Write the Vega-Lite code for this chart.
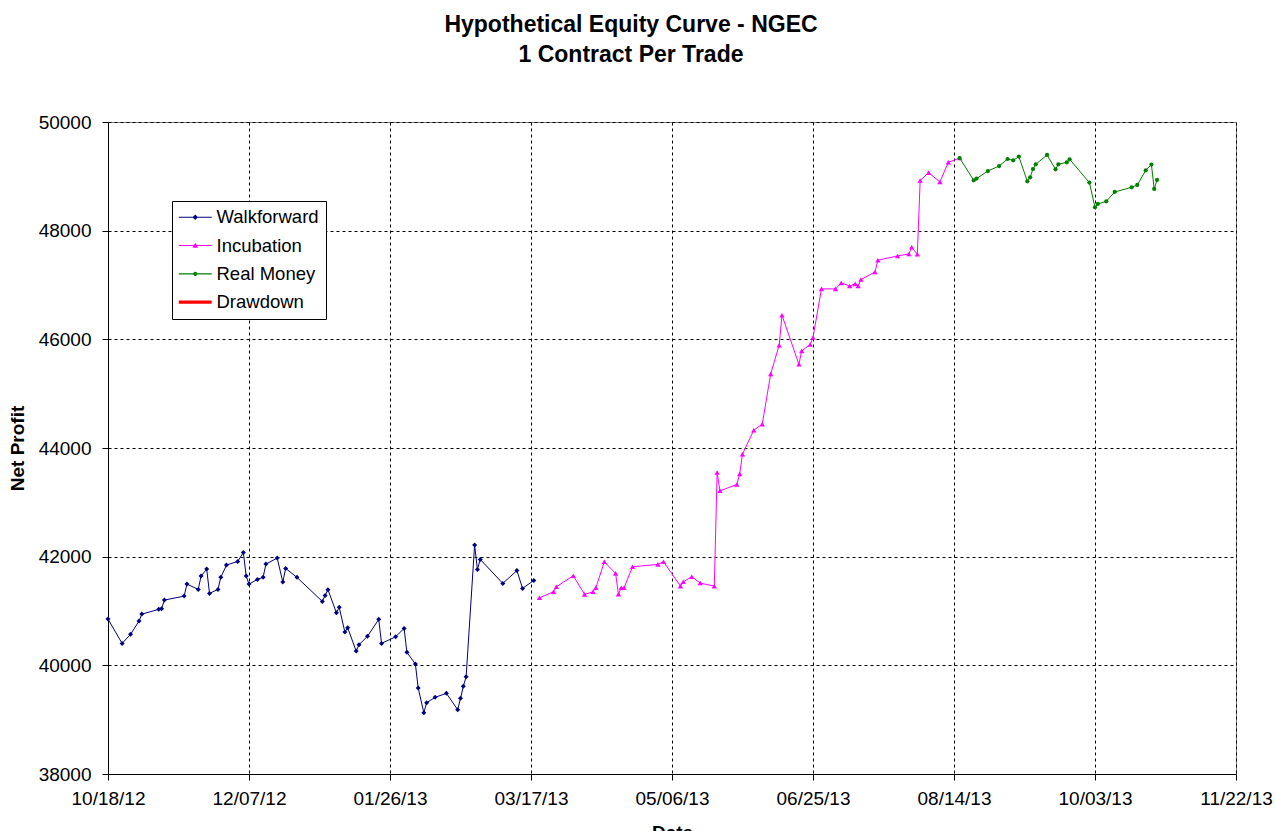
{
  "$schema": "https://vega.github.io/schema/vega-lite/v6.json",
  "width": 1128,
  "height": 652,
  "autosize": {"type": "none"},
  "padding": {"left": 108, "top": 122, "right": 39, "bottom": 57},
  "background": "white",
  "title": {
    "text": ["Hypothetical Equity Curve - NGEC", "1 Contract Per Trade"],
    "font": "Liberation Sans",
    "fontSize": 23,
    "fontWeight": "bold",
    "color": "black",
    "lineHeight": 30,
    "anchor": "middle",
    "baseline": "bottom",
    "offset": 23,
    "dx": -41
  },
  "datasets": {
    "equity": [
      {"date": "2012-10-18", "profit": 40851, "series": "Walkforward"},
      {"date": "2012-10-23", "profit": 40404, "series": "Walkforward"},
      {"date": "2012-10-26", "profit": 40570, "series": "Walkforward"},
      {"date": "2012-10-29", "profit": 40815, "series": "Walkforward"},
      {"date": "2012-10-30", "profit": 40943, "series": "Walkforward"},
      {"date": "2012-11-05", "profit": 41030, "series": "Walkforward"},
      {"date": "2012-11-06", "profit": 41040, "series": "Walkforward"},
      {"date": "2012-11-07", "profit": 41201, "series": "Walkforward"},
      {"date": "2012-11-14", "profit": 41274, "series": "Walkforward"},
      {"date": "2012-11-15", "profit": 41495, "series": "Walkforward"},
      {"date": "2012-11-19", "profit": 41398, "series": "Walkforward"},
      {"date": "2012-11-20", "profit": 41642, "series": "Walkforward"},
      {"date": "2012-11-22", "profit": 41771, "series": "Walkforward"},
      {"date": "2012-11-23", "profit": 41324, "series": "Walkforward"},
      {"date": "2012-11-26", "profit": 41398, "series": "Walkforward"},
      {"date": "2012-11-27", "profit": 41619, "series": "Walkforward"},
      {"date": "2012-11-29", "profit": 41845, "series": "Walkforward"},
      {"date": "2012-12-03", "profit": 41913, "series": "Walkforward"},
      {"date": "2012-12-05", "profit": 42078, "series": "Walkforward"},
      {"date": "2012-12-06", "profit": 41642, "series": "Walkforward"},
      {"date": "2012-12-07", "profit": 41495, "series": "Walkforward"},
      {"date": "2012-12-10", "profit": 41582, "series": "Walkforward"},
      {"date": "2012-12-12", "profit": 41619, "series": "Walkforward"},
      {"date": "2012-12-13", "profit": 41863, "series": "Walkforward"},
      {"date": "2012-12-17", "profit": 41974, "series": "Walkforward"},
      {"date": "2012-12-19", "profit": 41532, "series": "Walkforward"},
      {"date": "2012-12-20", "profit": 41784, "series": "Walkforward"},
      {"date": "2012-12-24", "profit": 41619, "series": "Walkforward"},
      {"date": "2013-01-02", "profit": 41177, "series": "Walkforward"},
      {"date": "2013-01-03", "profit": 41287, "series": "Walkforward"},
      {"date": "2013-01-04", "profit": 41392, "series": "Walkforward"},
      {"date": "2013-01-07", "profit": 40967, "series": "Walkforward"},
      {"date": "2013-01-08", "profit": 41067, "series": "Walkforward"},
      {"date": "2013-01-10", "profit": 40612, "series": "Walkforward"},
      {"date": "2013-01-11", "profit": 40691, "series": "Walkforward"},
      {"date": "2013-01-14", "profit": 40263, "series": "Walkforward"},
      {"date": "2013-01-15", "profit": 40379, "series": "Walkforward"},
      {"date": "2013-01-18", "profit": 40533, "series": "Walkforward"},
      {"date": "2013-01-22", "profit": 40846, "series": "Walkforward"},
      {"date": "2013-01-23", "profit": 40404, "series": "Walkforward"},
      {"date": "2013-01-28", "profit": 40526, "series": "Walkforward"},
      {"date": "2013-01-31", "profit": 40680, "series": "Walkforward"},
      {"date": "2013-02-01", "profit": 40239, "series": "Walkforward"},
      {"date": "2013-02-04", "profit": 40024, "series": "Walkforward"},
      {"date": "2013-02-05", "profit": 39582, "series": "Walkforward"},
      {"date": "2013-02-07", "profit": 39128, "series": "Walkforward"},
      {"date": "2013-02-08", "profit": 39312, "series": "Walkforward"},
      {"date": "2013-02-11", "profit": 39411, "series": "Walkforward"},
      {"date": "2013-02-15", "profit": 39485, "series": "Walkforward"},
      {"date": "2013-02-19", "profit": 39183, "series": "Walkforward"},
      {"date": "2013-02-20", "profit": 39393, "series": "Walkforward"},
      {"date": "2013-02-21", "profit": 39613, "series": "Walkforward"},
      {"date": "2013-02-22", "profit": 39790, "series": "Walkforward"},
      {"date": "2013-02-25", "profit": 42213, "series": "Walkforward"},
      {"date": "2013-02-26", "profit": 41766, "series": "Walkforward"},
      {"date": "2013-02-27", "profit": 41950, "series": "Walkforward"},
      {"date": "2013-03-07", "profit": 41508, "series": "Walkforward"},
      {"date": "2013-03-12", "profit": 41744, "series": "Walkforward"},
      {"date": "2013-03-14", "profit": 41416, "series": "Walkforward"},
      {"date": "2013-03-18", "profit": 41563, "series": "Walkforward"},
      {"date": "2013-03-20", "profit": 41243, "series": "Incubation"},
      {"date": "2013-03-25", "profit": 41354, "series": "Incubation"},
      {"date": "2013-03-26", "profit": 41446, "series": "Incubation"},
      {"date": "2013-04-01", "profit": 41648, "series": "Incubation"},
      {"date": "2013-04-05", "profit": 41306, "series": "Incubation"},
      {"date": "2013-04-08", "profit": 41354, "series": "Incubation"},
      {"date": "2013-04-09", "profit": 41427, "series": "Incubation"},
      {"date": "2013-04-12", "profit": 41906, "series": "Incubation"},
      {"date": "2013-04-16", "profit": 41692, "series": "Incubation"},
      {"date": "2013-04-17", "profit": 41311, "series": "Incubation"},
      {"date": "2013-04-18", "profit": 41427, "series": "Incubation"},
      {"date": "2013-04-19", "profit": 41427, "series": "Incubation"},
      {"date": "2013-04-22", "profit": 41814, "series": "Incubation"},
      {"date": "2013-05-01", "profit": 41858, "series": "Incubation"},
      {"date": "2013-05-03", "profit": 41906, "series": "Incubation"},
      {"date": "2013-05-09", "profit": 41458, "series": "Incubation"},
      {"date": "2013-05-10", "profit": 41538, "series": "Incubation"},
      {"date": "2013-05-13", "profit": 41630, "series": "Incubation"},
      {"date": "2013-05-16", "profit": 41514, "series": "Incubation"},
      {"date": "2013-05-21", "profit": 41458, "series": "Incubation"},
      {"date": "2013-05-22", "profit": 43550, "series": "Incubation"},
      {"date": "2013-05-23", "profit": 43212, "series": "Incubation"},
      {"date": "2013-05-29", "profit": 43329, "series": "Incubation"},
      {"date": "2013-05-30", "profit": 43524, "series": "Incubation"},
      {"date": "2013-05-31", "profit": 43887, "series": "Incubation"},
      {"date": "2013-06-04", "profit": 44328, "series": "Incubation"},
      {"date": "2013-06-07", "profit": 44439, "series": "Incubation"},
      {"date": "2013-06-10", "profit": 45364, "series": "Incubation"},
      {"date": "2013-06-13", "profit": 45892, "series": "Incubation"},
      {"date": "2013-06-14", "profit": 46444, "series": "Incubation"},
      {"date": "2013-06-20", "profit": 45542, "series": "Incubation"},
      {"date": "2013-06-21", "profit": 45787, "series": "Incubation"},
      {"date": "2013-06-24", "profit": 45905, "series": "Incubation"},
      {"date": "2013-06-25", "profit": 46034, "series": "Incubation"},
      {"date": "2013-06-28", "profit": 46928, "series": "Incubation"},
      {"date": "2013-07-03", "profit": 46928, "series": "Incubation"},
      {"date": "2013-07-05", "profit": 47038, "series": "Incubation"},
      {"date": "2013-07-08", "profit": 46983, "series": "Incubation"},
      {"date": "2013-07-10", "profit": 47020, "series": "Incubation"},
      {"date": "2013-07-11", "profit": 46983, "series": "Incubation"},
      {"date": "2013-07-12", "profit": 47101, "series": "Incubation"},
      {"date": "2013-07-17", "profit": 47240, "series": "Incubation"},
      {"date": "2013-07-18", "profit": 47456, "series": "Incubation"},
      {"date": "2013-07-25", "profit": 47535, "series": "Incubation"},
      {"date": "2013-07-29", "profit": 47571, "series": "Incubation"},
      {"date": "2013-07-30", "profit": 47695, "series": "Incubation"},
      {"date": "2013-08-01", "profit": 47566, "series": "Incubation"},
      {"date": "2013-08-02", "profit": 48922, "series": "Incubation"},
      {"date": "2013-08-05", "profit": 49069, "series": "Incubation"},
      {"date": "2013-08-09", "profit": 48896, "series": "Incubation"},
      {"date": "2013-08-12", "profit": 49258, "series": "Incubation"},
      {"date": "2013-08-16", "profit": 49337, "series": "Incubation"},
      {"date": "2013-08-16", "profit": 49337, "series": "Real Money"},
      {"date": "2013-08-21", "profit": 48927, "series": "Real Money"},
      {"date": "2013-08-22", "profit": 48959, "series": "Real Money"},
      {"date": "2013-08-26", "profit": 49098, "series": "Real Money"},
      {"date": "2013-08-30", "profit": 49190, "series": "Real Money"},
      {"date": "2013-09-02", "profit": 49319, "series": "Real Money"},
      {"date": "2013-09-04", "profit": 49295, "series": "Real Money"},
      {"date": "2013-09-06", "profit": 49363, "series": "Real Money"},
      {"date": "2013-09-09", "profit": 48909, "series": "Real Money"},
      {"date": "2013-09-10", "profit": 48982, "series": "Real Money"},
      {"date": "2013-09-11", "profit": 49135, "series": "Real Money"},
      {"date": "2013-09-12", "profit": 49222, "series": "Real Money"},
      {"date": "2013-09-16", "profit": 49393, "series": "Real Money"},
      {"date": "2013-09-19", "profit": 49130, "series": "Real Money"},
      {"date": "2013-09-20", "profit": 49222, "series": "Real Money"},
      {"date": "2013-09-23", "profit": 49258, "series": "Real Money"},
      {"date": "2013-09-24", "profit": 49314, "series": "Real Money"},
      {"date": "2013-10-01", "profit": 48885, "series": "Real Money"},
      {"date": "2013-10-03", "profit": 48431, "series": "Real Money"},
      {"date": "2013-10-04", "profit": 48491, "series": "Real Money"},
      {"date": "2013-10-07", "profit": 48541, "series": "Real Money"},
      {"date": "2013-10-10", "profit": 48712, "series": "Real Money"},
      {"date": "2013-10-16", "profit": 48798, "series": "Real Money"},
      {"date": "2013-10-18", "profit": 48841, "series": "Real Money"},
      {"date": "2013-10-21", "profit": 49111, "series": "Real Money"},
      {"date": "2013-10-23", "profit": 49216, "series": "Real Money"},
      {"date": "2013-10-24", "profit": 48767, "series": "Real Money"},
      {"date": "2013-10-25", "profit": 48933, "series": "Real Money"}
    ]
  },
  "layer": [
    {
      "data": {"name": "equity"},
      "encoding": {
        "x": {
          "field": "date",
          "type": "temporal",
          "scale": {
            "type": "utc",
            "domain": [
              {"year": 2012, "month": 10, "date": 18, "utc": true},
              {"year": 2013, "month": 11, "date": 22, "utc": true}
            ],
            "nice": false
          },
          "axis": {
            "title": "Date",
            "values": [
              {"year": 2012, "month": 10, "date": 18, "utc": true},
              {"year": 2012, "month": 12, "date": 7, "utc": true},
              {"year": 2013, "month": 1, "date": 26, "utc": true},
              {"year": 2013, "month": 3, "date": 17, "utc": true},
              {"year": 2013, "month": 5, "date": 6, "utc": true},
              {"year": 2013, "month": 6, "date": 25, "utc": true},
              {"year": 2013, "month": 8, "date": 14, "utc": true},
              {"year": 2013, "month": 10, "date": 3, "utc": true},
              {"year": 2013, "month": 11, "date": 22, "utc": true}
            ],
            "labelExpr": "utcFormat(datum.value, '%m/%d/%y')",
            "labelPadding": 9,
            "titlePadding": 15,
            "encode": {
              "grid": {
                "update": {
                  "strokeOpacity": {"signal": "datum.value > 1385000000000 ? 0 : 1"}
                }
              }
            }
          }
        },
        "y": {
          "field": "profit",
          "type": "quantitative",
          "scale": {"domain": [38000, 50000], "nice": false, "zero": false},
          "axis": {
            "title": "Net Profit",
            "values": [38000, 40000, 42000, 44000, 46000, 48000, 50000],
            "format": "d",
            "labelPadding": 11,
            "titlePadding": 11,
            "encode": {
              "grid": {
                "update": {
                  "strokeOpacity": {"signal": "datum.value >= 50000 ? 0 : 1"}
                }
              }
            }
          }
        }
      },
      "layer": [
        {
          "transform": [{"filter": "datum.series === 'Walkforward'"}],
          "mark": {
            "type": "line",
            "color": "#000080",
            "strokeWidth": 1,
            "point": {"filled": true, "shape": "diamond", "size": 25, "color": "#000080", "opacity": 1}
          }
        },
        {
          "transform": [{"filter": "datum.series === 'Incubation'"}],
          "mark": {
            "type": "line",
            "color": "#FF00FF",
            "strokeWidth": 1,
            "point": {"filled": true, "shape": "triangle-up", "size": 28, "color": "#FF00FF", "opacity": 1}
          }
        },
        {
          "transform": [{"filter": "datum.series === 'Real Money'"}],
          "mark": {
            "type": "line",
            "color": "#008000",
            "strokeWidth": 1,
            "point": {"filled": true, "shape": "circle", "size": 18, "color": "#008000", "opacity": 1}
          }
        }
      ]
    },
    {
      "data": {"values": [{"series": "Drawdown"}]},
      "transform": [{"filter": "datum.series === 'none'"}],
      "mark": {"type": "point", "filled": true, "size": 324, "opacity": 1},
      "encoding": {
        "color": {
          "field": "series",
          "type": "nominal",
          "scale": {
            "domain": ["Walkforward", "Incubation", "Real Money", "Drawdown"],
            "range": ["#000080", "#FF00FF", "#008000", "#FF0000"]
          },
          "legend": {
            "title": null,
            "orient": "none",
            "legendX": 64,
            "legendY": 79,
            "padding": 7,
            "fillColor": "white",
            "strokeColor": "black",
            "symbolSize": 324,
            "symbolStrokeWidth": 0,
            "symbolOpacity": 1,
            "symbolOffset": 7,
            "labelOffset": 12,
            "labelFontSize": 18.5,
            "labelColor": "black",
            "labelFont": "Liberation Sans",
            "rowPadding": 9.3,
            "labelLimit": 300
          }
        },
        "shape": {
          "field": "series",
          "type": "nominal",
          "scale": {
            "domain": ["Walkforward", "Incubation", "Real Money", "Drawdown"],
            "range": [
              "M-1.83,-0.06H1.83V0.06H-1.83ZM0,-0.3L0.3,0L0,0.3L-0.3,0Z",
              "M-1.83,-0.06H1.83V0.06H-1.83ZM0,-0.32L0.32,0.24L-0.32,0.24Z",
              "M-1.83,-0.06H1.83V0.06H-1.83ZM-0.24,0A0.24,0.24 0 1,1 0.24,0A0.24,0.24 0 1,1 -0.24,0Z",
              "M-1.83,-0.17H1.83V0.17H-1.83Z"
            ]
          }
        }
      }
    }
  ],
  "config": {
    "font": "Liberation Sans",
    "view": {"fill": "#C0C0C0", "stroke": "#808080"},
    "axis": {
      "labelFont": "Liberation Sans",
      "labelFontSize": 19,
      "labelColor": "black",
      "titleFont": "Liberation Sans",
      "titleFontSize": 19,
      "titleFontWeight": "bold",
      "titleColor": "black",
      "domainColor": "black",
      "domainWidth": 1,
      "tickColor": "black",
      "tickSize": 6,
      "tickWidth": 1,
      "grid": true,
      "gridColor": "black",
      "gridDash": [3, 3],
      "gridWidth": 1,
      "labelFlush": false,
      "labelOverlap": false
    }
  }
}
